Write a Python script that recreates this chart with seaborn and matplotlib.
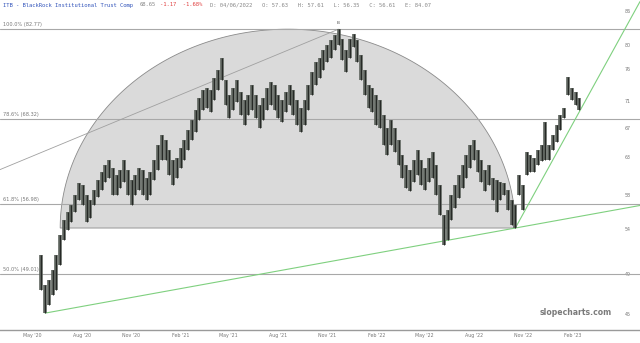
import numpy as np
import pandas as pd
import matplotlib
matplotlib.use("Agg")
import matplotlib.pyplot as plt
import matplotlib.dates as mdates
import matplotlib.transforms as mtransforms
from matplotlib.patches import Polygon
from matplotlib.ticker import NullLocator, FixedLocator, FixedFormatter
import seaborn as sns

# ---------------- data ----------------
week_start = "2020-05-18"
highs = [51.1, 47.9, 48.4, 49.5, 51.1, 53.3, 55.05, 56.0, 56.85, 58.1,
         59.6, 59.3, 58.1, 57.45, 58.7, 60.0, 61.0, 61.9, 62.6, 61.5,
         60.6, 61.3, 62.6, 61.3, 60.0, 60.6, 61.5, 61.3, 60.2, 61.0,
         62.6, 64.6, 66.0, 65.3, 63.9, 62.6, 62.9, 64.2, 65.3, 66.7,
         68.2, 69.65, 71.4, 72.7, 73.0, 72.7, 74.6, 75.9, 77.8, 74.3,
         71.9, 73.0, 74.3, 72.4, 71.2, 71.9, 73.5, 71.9, 70.4, 71.4,
         73.0, 74.0, 73.5, 71.9, 71.2, 72.4, 73.5, 72.7, 71.2, 70.0,
         71.2, 73.5, 75.6, 77.2, 77.8, 79.2, 80.1, 80.9, 81.8, 82.77,
         81.1, 79.2, 81.1, 82.0, 80.9, 78.4, 75.9, 73.5, 73.0, 71.9,
         71.2, 68.9, 67.0, 68.2, 67.0, 65.3, 63.3, 61.9, 61.3, 62.6,
         63.9, 62.6, 61.5, 62.9, 63.7, 61.9, 59.3, 55.6, 56.2, 58.1,
         59.3, 60.6, 61.9, 63.3, 64.6, 65.3, 63.9, 62.6, 61.3, 61.9,
         60.2, 60.0, 59.7, 59.6, 58.7, 57.45, 56.85, 60.6, 59.3, 63.7,
         63.3, 62.9, 63.9, 64.6, 67.9, 64.6, 66.0, 67.45, 68.9, 69.95,
         74.8, 73.0, 72.4, 71.4]
lows = [47.4, 45.1, 45.9, 46.9, 47.4, 50.0, 52.7, 53.9, 54.8, 56.0,
        57.45, 56.85, 54.8, 55.3, 56.85, 57.8, 58.7, 59.7, 60.2, 58.1,
        58.1, 58.95, 59.7, 58.1, 56.85, 58.1, 58.7, 58.1, 57.45, 58.1,
        60.0, 61.3, 62.6, 62.6, 60.6, 59.3, 60.2, 61.5, 62.6, 63.9,
        65.3, 66.4, 68.2, 69.65, 69.95, 69.35, 71.2, 72.7, 74.3, 70.4,
        68.5, 69.65, 70.9, 68.9, 67.45, 68.9, 69.65, 68.5, 67.0, 68.2,
        69.65, 70.4, 69.65, 68.5, 67.9, 69.35, 70.4, 68.9, 67.45, 66.4,
        67.45, 69.65, 71.9, 73.5, 74.6, 75.9, 77.2, 77.8, 79.2, 80.1,
        77.5, 75.6, 77.8, 79.6, 77.2, 74.3, 71.9, 69.95, 69.35, 67.45,
        67.0, 64.6, 63.3, 64.6, 63.7, 61.9, 60.2, 58.95, 58.5, 59.7,
        60.6, 59.3, 58.7, 59.7, 60.2, 58.1, 55.6, 52.2, 52.7, 55.05,
        56.5, 57.7, 58.95, 60.2, 61.5, 62.6, 61.0, 59.7, 58.5, 59.3,
        57.45, 56.0, 57.45, 58.1, 56.2, 54.5, 54.1, 58.1, 56.2, 60.6,
        61.0, 61.0, 61.9, 62.4, 62.6, 62.6, 63.9, 65.0, 66.7, 68.5,
        71.9, 71.2, 70.4, 69.65]

fib_labels = ["100.0% (82.77)", "78.6% (68.32)", "61.8% (56.98)", "50.0% (49.01)"]
fib_levels = [82.77, 68.32, 56.98, 49.01]
y_ticks = [86, 80, 76, 71, 67, 63, 58, 54, 49, 45]
x_tick_dates = ["2020-05-01", "2020-08-01", "2020-11-01", "2021-02-01", "2021-05-01",
                "2021-08-01", "2021-11-01", "2022-02-01", "2022-05-01", "2022-08-01",
                "2022-11-01", "2023-02-01"]
x_range = ["2020-03-02", "2023-06-06"]
y_range = [43.5, 88.1]

# arc (half ellipse) anchors
arc_dates = ["2020-06-22", "2022-10-17"]
arc_base, arc_top = 54.1, 82.77
# trend lines: (date, price) anchor pairs
gray_line = [("2020-03-02", 61.3), ("2021-11-22", 82.77)]
green_long = [("2020-05-25", 45.1), ("2022-10-17", 54.1)]
green_steep = [("2022-10-17", 54.1), ("2023-03-18", 74.3)]

header_title = "ITB - BlackRock Institutional Trust Comp"
header_price = "68.65"
header_change = "-1.17  -1.68%"
header_rest = "D: 04/06/2022   O: 57.63   H: 57.61   L: 56.35   C: 56.61   E: 84.07"

# ---------------- figure ----------------
sns.set_theme(style="white")
plt.rcParams['font.family'] = ['DejaVu Sans']
W, H = 640, 343
fig = plt.figure(figsize=(W / 100, H / 100), dpi=100)
ax = fig.add_axes([0, 13 / H, 1, 330 / H])
ax.set_facecolor("white")

dates = pd.date_range(week_start, periods=len(highs), freq="7D")
ax.set_yscale("log")
ax.set_xlim(pd.Timestamp(x_range[0]), pd.Timestamp(x_range[1]))
ax.set_ylim(*y_range)

def to_axes(d, p):
    disp = ax.transData.transform([[mdates.date2num(pd.Timestamp(d)), p]])
    return ax.transAxes.inverted().transform(disp)[0]

# half ellipse
l = to_axes(arc_dates[0], arc_base)
r = to_axes(arc_dates[1], arc_base)
t = to_axes(arc_dates[0], arc_top)
cx, a = (l[0] + r[0]) / 2, (r[0] - l[0]) / 2
b = t[1] - l[1]
th = np.linspace(np.pi, 0, 200)
pts = np.column_stack([cx + a * np.cos(th), l[1] + b * np.sin(th)])
ax.add_patch(Polygon(pts, closed=True, transform=ax.transAxes,
                     facecolor="#dadada", edgecolor="#8a8a8a", lw=0.6, zorder=1))

# fib lines
trans_blend = mtransforms.blended_transform_factory(ax.transAxes, ax.transData)
for lab, lev in zip(fib_labels, fib_levels):
    ax.axhline(lev, color="#a8a8a8", lw=0.8, zorder=2)
    ax.text(0.005, lev * 1.004, lab, transform=trans_blend, fontsize=3.6,
            color="#777777", va="bottom", ha="left", zorder=5)

# trend lines through seaborn
def extended(pair, extend=True):
    (d1, p1), (d2, p2) = pair
    t1, t2 = mdates.date2num(pd.Timestamp(d1)), mdates.date2num(pd.Timestamp(d2))
    tend = mdates.date2num(pd.Timestamp(x_range[1])) if extend else t2
    slope = (np.log(p2) - np.log(p1)) / (t2 - t1)
    ts = np.array([t1, tend])
    ps = np.exp(np.log(p1) + (ts - t1) * slope)
    return pd.DataFrame({"date": mdates.num2date(ts), "price": ps})

sns.lineplot(data=extended(gray_line, extend=False), x="date", y="price", ax=ax,
             color="#a0a0a0", lw=0.6, zorder=3)
sns.lineplot(data=extended(green_long), x="date", y="price", ax=ax,
             color="#7fd07f", lw=0.8, zorder=3)
sns.lineplot(data=extended(green_steep), x="date", y="price", ax=ax,
             color="#7fd07f", lw=0.8, zorder=3)

# price bars
ax.vlines(dates, lows, highs, color="#5b615b", lw=2.6, zorder=4)
ax.vlines(dates, lows, highs, color="#1c1f1c", lw=0.6, zorder=4)

# peak marker
pk = int(np.argmax(highs))
ax.text(dates[pk], highs[pk] * 1.01, "B", fontsize=3.2, color="#555555",
        ha="center", va="bottom", zorder=5)

ax.set_xlim(pd.Timestamp(x_range[0]), pd.Timestamp(x_range[1]))
ax.set_ylim(*y_range)

# axes styling
for s in ["top", "left", "right"]:
    ax.spines[s].set_visible(False)
ax.spines["bottom"].set_color("#9a9a9a")
ax.spines["bottom"].set_linewidth(1.0)
ax.set_xlabel("")
ax.set_ylabel("")

ax.yaxis.tick_right()
ax.yaxis.set_major_locator(FixedLocator(y_ticks))
ax.yaxis.set_major_formatter(FixedFormatter([str(v) for v in y_ticks]))
ax.yaxis.set_minor_locator(NullLocator())
ax.tick_params(axis="y", which="both", length=0, pad=-11, labelsize=3.4,
               labelcolor="#777777", labelright=True, labelleft=False)

ax.set_xticks(pd.to_datetime(x_tick_dates))
ax.xaxis.set_major_formatter(mdates.DateFormatter("%b '%y"))
ax.xaxis.set_minor_locator(NullLocator())
ax.tick_params(axis="x", length=0, pad=2.5, labelsize=3.4, labelcolor="#777777")

# watermark
ax.text(0.9, to_axes(x_range[0], 45.2)[1], "slopecharts.com", transform=ax.transAxes,
        fontsize=5.6, fontweight="bold", color="#7a7a7a", ha="center", va="center", zorder=6)

# header
char_px = 0.602 * 4.0 * 100 / 72
hy = 1 - 5 / H
x0 = 3
fig.text(x0 / W, hy, header_title, family="DejaVu Sans Mono", fontsize=4.0,
         color="#3355bb", va="center", ha="left")
x1 = x0 + (len(header_title) + 1) * char_px
fig.text(x1 / W, hy, header_price, family="DejaVu Sans Mono", fontsize=4.0,
         color="#888888", va="center", ha="left")
x2 = x1 + (len(header_price) + 1) * char_px
fig.text(x2 / W, hy, header_change, family="DejaVu Sans Mono", fontsize=4.0,
         color="#e04040", va="center", ha="left")
x3 = x2 + (len(header_change) + 2) * char_px
fig.text(x3 / W, hy, header_rest, family="DejaVu Sans Mono", fontsize=4.0,
         color="#888888", va="center", ha="left")

fig.savefig("out.png", dpi=100, facecolor="white")
